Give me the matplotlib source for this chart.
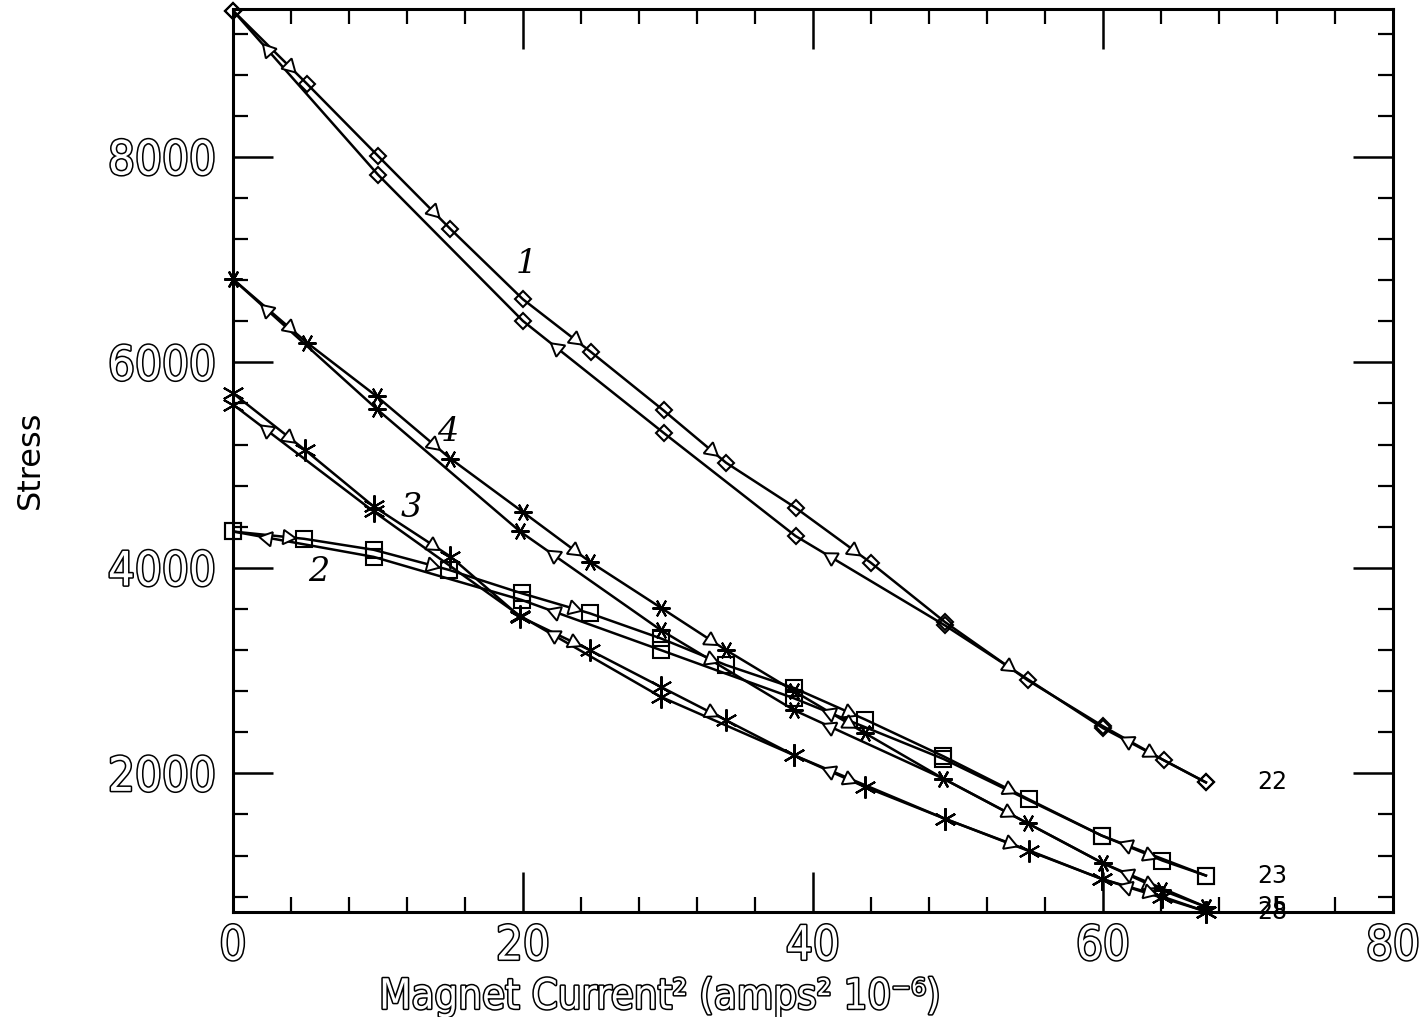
import numpy as np
import matplotlib
matplotlib.use('Agg')
from matplotlib import pyplot as plt
from matplotlib.ticker import MultipleLocator
import matplotlib.patheffects as pe

# curve 22 (diamonds), increasing-current branch and return branch
x22_up = [0, 5.1, 10, 15, 20, 24.7, 29.7, 34, 38.8, 44, 49.1, 54.8, 60, 64.2, 67.1]
y22_up = [9424, 8712, 8010, 7298, 6614, 6100, 5532, 5024, 4585, 4049, 3473, 2907, 2459, 2127, 1912]
x22_dn = [67.1, 60, 49.1, 38.8, 29.7, 20, 10, 0]
y22_dn = [1912, 2440, 3440, 4310, 5314, 6403, 7827, 9424]

# curve 23 (squares)
x23_up = [0, 4.9, 9.7, 14.9, 19.9, 24.6, 29.5, 34, 38.7, 43.6, 49, 54.9, 59.9, 64.1, 67.1]
y23_up = [4354, 4283, 4176, 3980, 3753, 3558, 3314, 3054, 2830, 2524, 2166, 1746, 1395, 1151, 1005]
x23_dn = [67.1, 59.9, 49, 38.7, 29.5, 19.9, 9.7, 0]
y23_dn = [1005, 1395, 2140, 2730, 3200, 3688, 4107, 4354]

# curve 25 (plus / asterisk)
x25_up = [0, 5.1, 9.9, 15, 20, 24.6, 29.5, 34, 38.7, 43.6, 49, 54.8, 60, 64.1, 67.1]
y25_up = [6810, 6192, 5671, 5063, 4543, 4061, 3613, 3200, 2800, 2390, 1948, 1515, 1125, 860, 700]
x25_dn = [67.1, 60, 49, 38.7, 29.5, 19.8, 9.9, 0]
y25_dn = [700, 1125, 1948, 2615, 3395, 4354, 5548, 6810]

# curve 28 (X asterisk)
x28_up = [0, 5, 9.7, 15, 19.8, 24.6, 29.5, 34, 38.7, 43.6, 49.1, 54.9, 59.9, 64.1, 67.1]
y28_up = [5700, 5144, 4598, 4110, 3525, 3200, 2842, 2517, 2176, 1867, 1558, 1249, 973, 800, 655]
x28_dn = [67.1, 59.9, 49.1, 38.7, 29.5, 19.8, 9.7, 0]
y28_dn = [655, 973, 1558, 2176, 2745, 3533, 4549, 5590]

run_labels = ['22', '23', '25', '28']
hand_labels = ['1', '2', '4', '3']
hand_pos = [(20.2, 6956), (5.9, 3960), (14.8, 5327), (12.3, 4585)]

outline = [pe.withStroke(linewidth=2.2, foreground='black')]

fig = plt.figure(figsize=(14.24, 10.17), dpi=100)
ax = fig.add_axes([0.1636, 0.1032, 0.8146, 0.888])
ax.set_xlim(0, 80)
ax.set_ylim(650, 9440)

curves = [
    (x22_up, y22_up, x22_dn, y22_dn, 'D', 8),
    (x23_up, y23_up, x23_dn, y23_dn, 's', 11),
    (x25_up, y25_up, x25_dn, y25_dn, (6, 2, 90), 13),
    (x28_up, y28_up, x28_dn, y28_dn, (6, 2, 0), 16),
]


def arrows(xs, ys, f=0.76):
    # open triangles along every other segment, pointing the way the branch runs
    for i in range(0, len(xs) - 1, 2):
        x0, y0, x1, y1 = xs[i], ys[i], xs[i + 1], ys[i + 1]
        p0 = ax.transData.transform((x0, y0))
        p1 = ax.transData.transform((x1, y1))
        ang = np.degrees(np.arctan2(p1[1] - p0[1], p1[0] - p0[0]))
        ax.plot(x0 + f * (x1 - x0), y0 + f * (y1 - y0), ls='none',
                marker=(3, 0, ang - 90), ms=12, mfc='white', mec='black',
                mew=1.4, zorder=4, clip_on=False)


for (xu, yu, xd, yd, mk, ms), lab in zip(curves, run_labels):
    for xs, ys in [(xu, yu), (xd, yd)]:
        ax.plot(xs, ys, '-', color='black', lw=1.8, zorder=2)
        ax.plot(xs, ys, ls='none', marker=mk, ms=ms, mfc='none', mec='black',
                mew=1.5, zorder=3, clip_on=False)
        arrows(xs, ys)
    ax.text(71.7, yu[-1], lab, fontsize=17, ha='center', va='center')

for t, (hx, hy) in zip(hand_labels, hand_pos):
    ax.text(hx, hy, t, fontsize=24, style='italic', family='DejaVu Serif',
            ha='center', va='center')

ax.set_xticks([0, 20, 40, 60, 80])
ax.set_yticks([2000, 4000, 6000, 8000])
ax.xaxis.set_minor_locator(MultipleLocator(4))
ax.yaxis.set_minor_locator(MultipleLocator(400))
ax.tick_params(which='major', direction='in', length=29, width=1.8,
               top=True, right=True)
ax.tick_params(which='minor', direction='in', length=11, width=1.6,
               top=True, right=True)
ax.tick_params(axis='x', pad=9)
ax.tick_params(axis='y', pad=12)
for lbl in ax.get_xticklabels() + ax.get_yticklabels():
    lbl.set_fontfamily('DejaVu Sans')
    lbl.set_fontstretch('condensed')
    lbl.set_fontweight('light')
    lbl.set_fontsize(34)
    lbl.set_color('white')
    lbl.set_path_effects(outline)
for s in ax.spines.values():
    s.set_linewidth(2.2)

fig.text(0.463, 0.020, 'Magnet Current\u00b2 (amps\u00b2 10\u207b\u2076)',
         fontsize=30, family='DejaVu Sans', stretch='condensed',
         weight='light', color='white', path_effects=outline,
         ha='center', va='center')
fig.text(0.021, 0.548, 'Stress', fontsize=23, rotation=90,
         ha='center', va='center')

fig.savefig('out.png', dpi=100)
